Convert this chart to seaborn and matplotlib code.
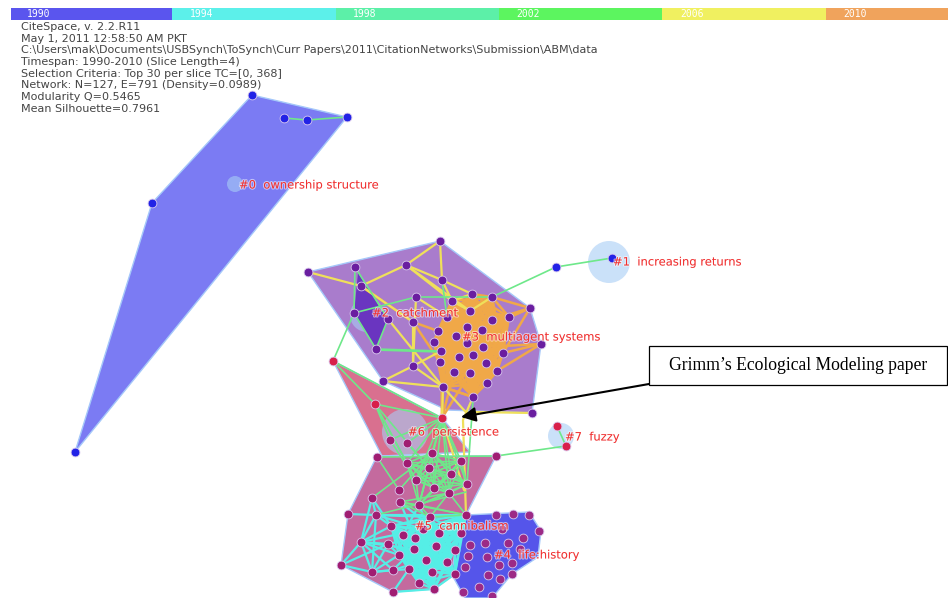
from itertools import combinations

import matplotlib.patheffects as pe
import matplotlib.pyplot as plt
import pandas as pd
import seaborn as sns
from matplotlib.patches import Circle, Polygon, Rectangle

# timeline
slices = ["1990", "1994", "1998", "2002", "2006", "2010"]
slice_colors = ["#5a55ee", "#5cf0ea", "#5cf0a8", "#5cf55f", "#f0f060", "#f0a35c"]

info_lines = [
    "CiteSpace, v. 2.2.R11",
    "May 1, 2011 12:58:50 AM PKT",
    "C:\\Users\\mak\\Documents\\USBSynch\\ToSynch\\Curr Papers\\2011\\CitationNetworks\\Submission\\ABM\\data",
    "Timespan: 1990-2010 (Slice Length=4)",
    "Selection Criteria: Top 30 per slice TC=[0, 368]",
    "Network: N=127, E=791 (Density=0.0989)",
    "Modularity Q=0.5465",
    "Mean Silhouette=0.7961",
]

# nodes, in picture pixels
blue_nodes = [(252, 95), (284, 118), (307, 120), (347, 117), (152, 203), (75, 452),
              (556, 267), (612, 258)]
purple_nodes = [(308, 272), (440, 241), (355, 267), (406, 265), (442, 280), (361, 286),
                (416, 297), (452, 301), (472, 294), (492, 297), (530, 308), (354, 313),
                (388, 319), (413, 322), (447, 317), (470, 311), (492, 320), (509, 317),
                (438, 331), (467, 327), (482, 330), (434, 342), (456, 336), (467, 343),
                (483, 347), (541, 344), (376, 349), (441, 351), (459, 357), (473, 355),
                (503, 353), (440, 362), (413, 366), (486, 363), (454, 372), (470, 373),
                (497, 371), (383, 381), (443, 387), (487, 383), (473, 397), (532, 413)]
red_nodes = [(333, 361), (375, 404), (442, 418), (557, 426), (566, 446)]
magenta_nodes = [(377, 457), (432, 453), (496, 456), (407, 463), (461, 461), (429, 468),
                 (451, 474), (416, 480), (467, 484), (399, 490), (434, 488), (449, 493),
                 (372, 498), (400, 502), (419, 505), (348, 514), (376, 515), (430, 517),
                 (466, 515), (391, 526), (423, 529), (403, 535), (415, 538), (439, 533),
                 (461, 533), (361, 542), (388, 544), (414, 549), (436, 546), (455, 550),
                 (399, 555), (426, 560), (447, 562), (341, 565), (372, 572), (393, 570),
                 (409, 569), (432, 572), (455, 574), (419, 583), (393, 592), (434, 589),
                 (390, 440), (407, 443)]
violet_nodes = [(496, 515), (513, 514), (529, 515), (539, 531), (502, 529), (523, 538),
                (485, 543), (508, 543), (470, 545), (520, 549), (468, 556), (487, 557),
                (512, 563), (499, 565), (465, 567), (512, 574), (488, 575), (500, 579),
                (479, 587), (463, 592), (492, 596)]

# cluster outlines
hull_0 = [(252, 95), (347, 117), (75, 452), (152, 203)]
hull_3 = [(308, 272), (440, 241), (530, 308), (541, 344), (532, 413), (475, 411),
          (447, 410), (383, 381)]
hull_2 = [(358, 273), (354, 313), (376, 349), (388, 319)]
hull_6 = [(333, 361), (442, 418), (470, 452), (382, 456)]
hull_5 = [(377, 456), (496, 456), (466, 515), (455, 574), (434, 589), (393, 592),
          (341, 565), (348, 514)]
hull_4 = [(466, 515), (529, 512), (541, 531), (538, 557), (512, 574), (492, 598),
          (465, 598), (452, 575), (456, 540)]

# edges: polylines and groups of nodes that are all linked
green_paths = [
    [(284, 118), (307, 120), (347, 117)],
    [(556, 267), (612, 258)],
    [(556, 267), (492, 297), (416, 297), (354, 313), (355, 267), (388, 319), (376, 349), (354, 313), (333, 361)],
    [(376, 349), (441, 351)],
    [(376, 350), (441, 352)],
    [(442, 280), (447, 317)],
    [(333, 361), (375, 404), (390, 440)],
    [(333, 361), (442, 418)],
    [(377, 457), (496, 456), (566, 446)],
    [(557, 426), (566, 446)],
    [(377, 457), (399, 490), (432, 453)],
    [(372, 498), (432, 453)],
    [(473, 400), (467, 484)],
    [(376, 515), (466, 492)],
    [(375, 404), (407, 463)], [(375, 404), (416, 480)], [(375, 404), (429, 468)],
    [(375, 404), (442, 418)], [(390, 440), (442, 418)], [(407, 443), (442, 418)],
    [(390, 440), (416, 480)], [(407, 443), (429, 468)],
]
green_groups = [
    [(442, 418), (432, 453), (407, 463), (461, 461), (429, 468), (451, 474), (416, 480),
     (467, 484), (434, 488), (449, 493), (419, 505)],
    [(400, 502), (419, 505), (430, 517), (466, 515), (449, 493)],
]
yellow_paths = [
    [(308, 272), (361, 286), (406, 265), (440, 241), (442, 280), (406, 265)],
    [(442, 280), (472, 294)],
    [(442, 280), (452, 301)],
    [(406, 265), (452, 301)],
    [(406, 265), (470, 311)],
    [(361, 286), (413, 322)],
    [(388, 319), (443, 387)],
    [(416, 297), (413, 366), (383, 381), (443, 387), (442, 418)],
    [(413, 322), (413, 366), (443, 387)],
    [(413, 366), (441, 351)],
    [(416, 297), (447, 317)],
    [(475, 412), (532, 413)],
    [(473, 397), (463, 420), (466, 515)],
    [(442, 418), (464, 490)],
    [(443, 387), (473, 420)],
    [(472, 294), (452, 301), (470, 311), (492, 297)],
]
orange_paths = [
    [(530, 308), (492, 297)], [(530, 308), (492, 320)], [(530, 308), (509, 317)],
    [(530, 308), (482, 330)], [(530, 308), (503, 353)], [(541, 344), (503, 353)],
    [(541, 344), (483, 347)], [(541, 344), (497, 371)], [(442, 418), (443, 387)],
    [(442, 418), (454, 372)], [(442, 418), (441, 351)], [(442, 418), (470, 373)],
    [(361, 286), (413, 322)], [(413, 322), (438, 331)], [(413, 322), (440, 362)],
    [(473, 397), (443, 387)],
]
orange_group = [(438, 331), (467, 327), (482, 330), (434, 342), (456, 336), (467, 343),
                (483, 347), (441, 351), (459, 357), (473, 355), (503, 353), (440, 362),
                (486, 363), (454, 372), (470, 373), (497, 371), (443, 387), (487, 383),
                (473, 397), (447, 317), (470, 311), (492, 320), (509, 317), (452, 301),
                (472, 294), (492, 297)]
cyan_paths = [
    [(361, 542), (391, 526)], [(361, 542), (388, 544)], [(361, 542), (399, 555)],
    [(361, 542), (414, 549)], [(361, 542), (423, 529)], [(361, 542), (372, 572)],
    [(361, 542), (393, 570)], [(361, 542), (341, 565), (372, 572), (393, 570)],
    [(341, 565), (388, 544)], [(372, 572), (388, 544)], [(372, 572), (376, 515)],
    [(372, 572), (409, 569)], [(372, 572), (399, 555)], [(372, 498), (376, 515)],
    [(372, 498), (391, 526)], [(372, 498), (361, 542)], [(348, 514), (430, 517)],
    [(376, 515), (466, 515)], [(376, 515), (403, 535)], [(376, 515), (361, 542)],
    [(393, 592), (409, 569)], [(393, 592), (434, 589)], [(400, 502), (439, 533)],
    [(388, 544), (439, 533)], [(388, 544), (399, 555)], [(400, 502), (415, 538)],
    [(419, 505), (403, 535)], [(419, 505), (436, 546)], [(376, 515), (423, 529)],
    [(393, 570), (414, 549)], [(393, 570), (426, 560)], [(388, 544), (426, 560)],
]
cyan_group = [(391, 526), (423, 529), (403, 535), (415, 538), (439, 533), (461, 533),
              (414, 549), (436, 546), (455, 550), (399, 555), (426, 560), (447, 562),
              (409, 569), (432, 572), (455, 574), (419, 583), (434, 589), (430, 517),
              (466, 515)]

# halos behind the cluster labels: centre x, centre y, radius
halos = [(235, 184, 8), (609, 262, 21), (367, 315, 17), (405, 432, 23), (561, 436, 13)]

cluster_labels = ["#0  ownership structure", "#1  increasing returns", "#2  catchment",
                  "#3  multiagent systems", "#4  life:history", "#5  cannibalism",
                  "#6  persistence", "#7  fuzzy"]
label_x = [239, 613, 372, 462, 494, 415, 408, 565]
label_y = [185, 262, 313, 337, 555, 526, 432, 437]


def edge_frame(paths, groups=()):
    rows = []
    edge = 0
    for path in paths:
        for x, y in path:
            rows.append((edge, x, y))
        edge += 1
    for group in groups:
        for a, b in combinations(group, 2):
            rows.append((edge, a[0], a[1]))
            rows.append((edge, b[0], b[1]))
            edge += 1
    return pd.DataFrame(rows, columns=["edge", "x", "y"])


sns.set_theme(style="white")
fig = plt.figure(figsize=(9.48, 5.98), dpi=100)

ax = fig.add_axes([0, 0, 1, 1])
ax.set_xlim(0, 948)
ax.set_ylim(598, 0)
ax.axis("off")

# timeline along the top
tl = fig.add_axes([11 / 948, 1 - 20 / 598, 937 / 948, 12.5 / 598])
sns.barplot(x=slices, y=[1] * len(slices), hue=slices, palette=slice_colors, width=1,
            saturation=1, legend=False, linewidth=0, edgecolor="none", ax=tl)
tl.set_xlim(-0.488, 5.25)
tl.set_ylim(0, 1)
tl.axis("off")
for i, year in enumerate(slices):
    tl.text(i - 0.32, 0.45, year, color="white", fontsize=7, family="DejaVu Sans Mono",
            ha="center", va="center")

for i, line in enumerate(info_lines):
    ax.text(21, 27 + i * 11.7, line, color="#444444", fontsize=8, va="center")

hulls = [(hull_0, "#7b7bf3"), (hull_3, "#a97ccc"), (hull_6, "#d9708f"),
         (hull_5, "#c46a9e"), (hull_4, "#5555ea")]
for pts, col in hulls:
    ax.add_patch(Polygon(pts, closed=True, fc=col, ec="#a5c8fa", lw=1, zorder=1))

for x, y, r in halos:
    ax.add_patch(Circle((x, y), r, fc="#a8cdf5", ec="none", alpha=0.6, zorder=1.5))
ax.add_patch(Polygon(hull_2, closed=True, fc="#6a35c0", ec="none", zorder=1.6))

edge_sets = [
    (edge_frame(cyan_paths, [cyan_group]), "#55eee6", 1.6),
    (edge_frame(orange_paths, [orange_group]), "#f0a848", 1.8),
    (edge_frame(yellow_paths), "#efe05a", 1.6),
    (edge_frame(green_paths, green_groups), "#6ee88a", 1.2),
]
for df, col, width in edge_sets:
    sns.lineplot(data=df, x="x", y="y", units="edge", estimator=None, sort=False,
                 color=col, lw=width, ax=ax, zorder=2, legend=False)

node_sets = [(blue_nodes, "#2222e6"), (purple_nodes, "#6a1ea0"), (red_nodes, "#d8204a"),
             (magenta_nodes, "#a01d72"), (violet_nodes, "#9c2a86")]
for pts, col in node_sets:
    sns.scatterplot(x=[p[0] for p in pts], y=[p[1] for p in pts], color=col, s=40,
                    edgecolor="#d9c8ee", linewidth=0.6, ax=ax, zorder=3, legend=False)

for txt, x, y in zip(cluster_labels, label_x, label_y):
    ax.text(x, y, txt, color="#f03030", fontsize=8.3, va="center", zorder=4,
            path_effects=[pe.withStroke(linewidth=1.5, foreground="white", alpha=0.55)])

ax.set_xlim(0, 948)
ax.set_ylim(598, 0)
ax.set_xlabel("")
ax.set_ylabel("")

# callout
ax.add_patch(Rectangle((649, 346), 298, 39, fc="white", ec="black", lw=0.9, zorder=5))
ax.text(798, 366, "Grimm\u2019s Ecological Modeling paper", family="Liberation Serif",
        fontsize=12.7, color="black", ha="center", va="center", zorder=6)
ax.annotate("", xy=(461, 417), xytext=(649, 384), zorder=6,
            arrowprops=dict(arrowstyle="-|>", color="black", lw=1.5, mutation_scale=22,
                            shrinkA=0, shrinkB=0))

fig.savefig("out.png", dpi=100)
